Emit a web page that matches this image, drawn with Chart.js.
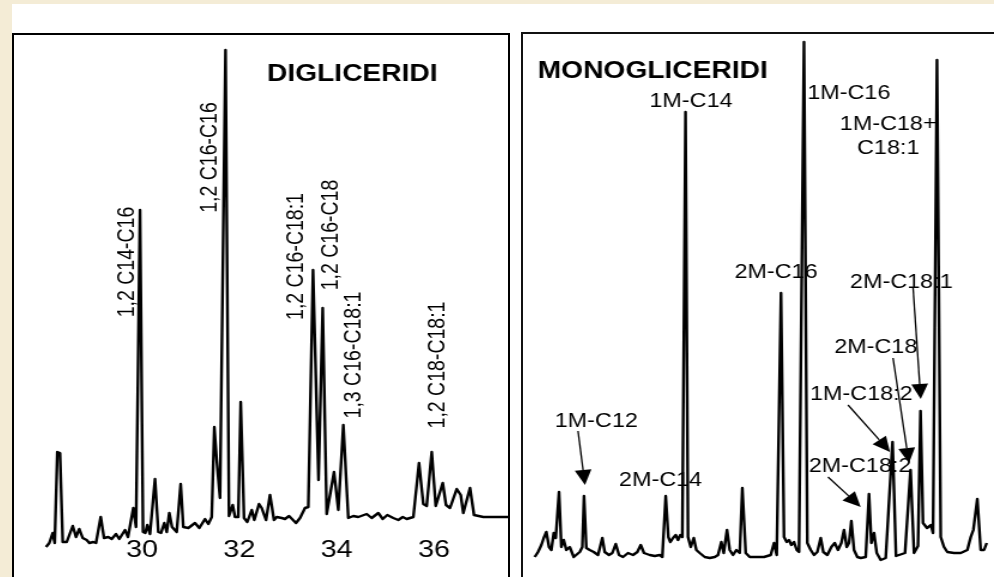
<!DOCTYPE html>
<html>
<head>
<meta charset="utf-8">
<script src="https://cdn.jsdelivr.net/npm/chart.js@4.4.0/dist/chart.umd.min.js"></script>
<style>
    html, body { margin: 0; padding: 0; }
    body { width: 994px; height: 577px; overflow: hidden; position: relative; background: #fff; }
    .strip { position: absolute; background: #f4ecd6; }
    .panel { position: absolute; box-sizing: border-box; border: 2px solid #000; height: 620px; }
    canvas { position: absolute; }
</style>
</head>
<body>
<div class="strip" style="left:0;top:0;width:994px;height:4px"></div>
<div class="strip" style="left:0;top:0;width:12px;height:577px"></div>
<div class="panel" style="left:12px;top:33px;width:498px"></div>
<div class="panel" style="left:521px;top:32px;width:520px;border-color:#111"></div>
<canvas id="di" width="412" height="560" style="left:14px;top:35px;width:494px;height:560px"></canvas>
<canvas id="mono" width="393" height="542" style="left:523px;top:35px;width:471px;height:542px"></canvas>
<script>
// diglycerides trace: retention time (min) and detector response (a.u.)
const diTime = [
    28.026, 28.094, 28.163, 28.205, 28.258, 28.313, 28.369, 28.451, 28.575, 28.642,
    28.710, 28.780, 28.862, 28.916, 28.998, 29.053, 29.150, 29.218, 29.306, 29.376,
    29.465, 29.532, 29.650, 29.711, 29.820, 29.876, 29.958, 30.020, 30.067, 30.108,
    30.163, 30.266, 30.334, 30.390, 30.457, 30.507, 30.560, 30.616, 30.712, 30.794,
    30.848, 30.951, 31.088, 31.177, 31.294, 31.362, 31.432, 31.485, 31.534, 31.602,
    31.715, 31.787, 31.863, 31.911, 31.978, 32.028, 32.096, 32.163, 32.254, 32.307,
    32.404, 32.459, 32.548, 32.630, 32.712, 32.768, 32.871, 32.938, 33.021, 33.164,
    33.247, 33.349, 33.417, 33.514, 33.627, 33.713, 33.795, 33.946, 34.034, 34.137,
    34.239, 34.342, 34.445, 34.618, 34.720, 34.856, 34.947, 35.041, 35.164, 35.267,
    35.358, 35.440, 35.576, 35.693, 35.781, 35.851, 35.954, 36.036, 36.180, 36.248,
    36.330, 36.468, 36.550, 36.603, 36.741, 36.823, 37.014, 37.290, 37.563
];
const diSignal = [
    13, 17, 27, 17, 108, 107, 18, 18, 34, 23,
    31, 22, 20, 17, 18, 17, 43, 22, 23, 21,
    26, 21, 30, 23, 52, 33, 350, 28, 27, 35,
    26, 81, 28, 27, 37, 28, 47, 33, 28, 76,
    33, 32, 37, 32, 41, 36, 43, 133, 100, 62,
    510, 44, 55, 43, 43, 158, 42, 38, 50, 40,
    56, 52, 40, 65, 40, 43, 42, 41, 44, 37,
    42, 52, 53, 290, 80, 252, 46, 88, 50, 135,
    42, 44, 43, 46, 42, 47, 41, 45, 42, 40,
    43, 41, 43, 97, 56, 54, 108, 54, 77, 55,
    52, 71, 65, 47, 72, 45, 43, 43, 43
];
const diTicks = [30, 32, 34, 36];
const diPeakNames = ['1,2 C14-C16', '1,2 C16-C16', '1,2 C16-C18:1', '1,2 C16-C18', '1,3 C16-C18:1', '1,2 C18-C18:1'];

// monoglycerides trace
const monoTime = [
    17.293, 17.375, 17.458, 17.518, 17.583, 17.650, 17.708, 17.768, 17.818, 17.900,
    17.958, 18.018, 18.083, 18.168, 18.268, 18.418, 18.483, 18.525, 18.583, 18.668,
    18.768, 18.875, 18.983, 19.043, 19.150, 19.233, 19.318, 19.400, 19.500, 19.625,
    19.750, 19.858, 19.943, 20.025, 20.168, 20.293, 20.418, 20.483, 20.568, 20.633,
    20.683, 20.750, 20.818, 20.875, 20.933, 20.983, 21.063, 21.125, 21.193, 21.268,
    21.333, 21.418, 21.543, 21.668, 21.793, 21.875, 21.958, 22.018, 22.100, 22.168,
    22.250, 22.333, 22.418, 22.483, 22.568, 22.668, 23.025, 23.193, 23.275, 23.343,
    23.450, 23.525, 23.593, 23.650, 23.708, 23.775, 23.843, 23.900, 24.025, 24.108,
    24.193, 24.275, 24.358, 24.443, 24.508, 24.608, 24.708, 24.793, 24.875, 24.958,
    25.025, 25.093, 25.150, 25.208, 25.275, 25.358, 25.443, 25.568, 25.650, 25.708,
    25.775, 25.843, 25.943, 26.068, 26.238, 26.325, 26.550, 26.688, 26.775, 26.875,
    26.938, 27.000, 27.100, 27.200, 27.250, 27.350, 27.443, 27.525, 27.608, 27.775,
    27.943, 28.108, 28.193, 28.258, 28.358, 28.443, 28.525, 28.593
];
const monoSignal = [
    20, 25, 32, 39, 45, 30, 27, 44, 39, 85,
    30, 37, 27, 30, 20, 25, 30, 81, 29, 27,
    25, 22, 39, 25, 22, 24, 33, 22, 20, 24,
    22, 25, 32, 24, 22, 21, 22, 20, 81, 40,
    35, 39, 42, 37, 42, 40, 465, 40, 30, 39,
    27, 24, 20, 19, 20, 22, 35, 24, 47, 27,
    22, 27, 24, 89, 24, 20, 20, 22, 34, 22,
    284, 40, 35, 37, 32, 35, 27, 25, 535, 34,
    27, 22, 25, 39, 25, 22, 30, 34, 27, 34,
    47, 30, 34, 56, 27, 20, 19, 20, 83, 34,
    44, 24, 17, 19, 135, 21, 24, 107, 24, 31,
    166, 54, 49, 52, 44, 517, 40, 30, 25, 24,
    24, 27, 40, 47, 78, 27, 27, 34
];
const monoPeakNames = ['1M-C12', '2M-C14', '1M-C14', '2M-C16', '1M-C16', '1M-C18:2', '2M-C18:2', '2M-C18', '2M-C18:1', '1M-C18+\nC18:1'];

// where the names sit (data coordinates), kept apart from the values
const diNotePos = [[29.691, 298], [31.397, 402.5], [33.164, 303.5], [33.894, 325], [34.346, 205], [36.073, 195]];
const monoNotePos = [[18.833, 155.3], [20.438, 96.7], [21.2, 475.7], [23.325, 304.2], [25.145, 483.2],
    [25.458, 182.8], [25.425, 110.7], [25.82, 229.8], [26.458, 294.8], [26.13, 440.35]];
// arrows: from [x, y] to [x, y]
const monoArrows = [
    [18.375, 146, 18.55, 92],
    [25.125, 172, 26.175, 125],
    [24.625, 100, 25.443, 70],
    [26.25, 219, 26.65, 114],
    [26.75, 290, 26.943, 178]
];

const FONT = '"Liberation Sans", Arial, sans-serif';

// names go under the trace, arrows over it
const notesPlugin = {
    id: 'notes',
    beforeDatasetsDraw( chart, args, opts ) {
        const ctx = chart.ctx;
        const xs = chart.scales.x;
        const ys = chart.scales.y;
        ctx.save();
        ctx.fillStyle = '#000';
        for ( let n of opts.labels || [] ) {
            const px = xs.getPixelForValue( n.x );
            const py = ys.getPixelForValue( n.y );
            ctx.font = n.font;
            ctx.textAlign = n.align || 'center';
            ctx.textBaseline = 'middle';
            const lines = n.text.split( '\n' );
            ctx.save();
            ctx.translate( px, py );
            if ( n.rot ) {
                ctx.rotate( -Math.PI / 2 );
            }
            lines.forEach( ( line, i ) => {
                ctx.fillText( line, 0, ( i - ( lines.length - 1 ) / 2 ) * 24 );
            } );
            ctx.restore();
        }
        ctx.restore();
    },
    afterDatasetsDraw( chart, args, opts ) {
        const ctx = chart.ctx;
        const xs = chart.scales.x;
        const ys = chart.scales.y;
        ctx.save();
        ctx.fillStyle = '#000';
        ctx.strokeStyle = '#000';
        for ( let a of opts.arrows || [] ) {
            const x0 = xs.getPixelForValue( a[0] ), y0 = ys.getPixelForValue( a[1] );
            const x1 = xs.getPixelForValue( a[2] ), y1 = ys.getPixelForValue( a[3] );
            const ang = Math.atan2( y1 - y0, x1 - x0 );
            const len = 15, half = 7;
            const bx = x1 - len * Math.cos( ang ), by = y1 - len * Math.sin( ang );
            ctx.lineWidth = 1.3;
            ctx.beginPath();
            ctx.moveTo( x0, y0 );
            ctx.lineTo( bx, by );
            ctx.stroke();
            ctx.beginPath();
            ctx.moveTo( x1, y1 );
            ctx.lineTo( bx + half * Math.sin( ang ), by - half * Math.cos( ang ) );
            ctx.lineTo( bx - half * Math.sin( ang ), by + half * Math.cos( ang ) );
            ctx.closePath();
            ctx.fill();
        }
        ctx.restore();
    }
};

const labelFont = '19.5px ' + FONT;
const titleFont = 'bold 23.5px ' + FONT;

const diLabels = diPeakNames.map( ( name, i ) => ( {
    text: name, x: diNotePos[i][0], y: diNotePos[i][1], rot: true, font: labelFont
} ) );
diLabels.push( { text: 'DIGLICERIDI', x: 32.568, y: 485.3, align: 'left', font: titleFont } );

const monoLabels = monoPeakNames.map( ( name, i ) => ( {
    text: name, x: monoNotePos[i][0], y: monoNotePos[i][1], font: labelFont
} ) );
monoLabels.push( { text: 'MONOGLICERIDI', x: 17.368, y: 505.3, align: 'left', font: titleFont } );

function traceDataset( xs, ys ) {
    return {
        data: xs.map( ( t, i ) => ( { x: t, y: ys[i] } ) ),
        borderColor: '#000',
        borderWidth: 2.4,
        borderJoinStyle: 'round',
        pointRadius: 0,
        tension: 0,
        fill: false
    };
}

new Chart( document.getElementById( 'di' ), {
    type: 'line',
    data: { datasets: [traceDataset( diTime, diSignal )] },
    options: {
        responsive: false,
        animation: false,
        events: [],
        layout: { padding: 0 },
        plugins: {
            legend: { display: false },
            tooltip: { enabled: false },
            notes: { labels: diLabels }
        },
        scales: {
            x: {
                type: 'linear',
                min: 27.368,
                max: 37.522,
                grid: { display: false, drawTicks: false },
                border: { display: false },
                afterBuildTicks: scale => {
                    scale.ticks = diTicks.map( v => ( { value: v } ) );
                },
                afterFit: scale => {
                    scale.height = 35;
                },
                ticks: {
                    mirror: true,
                    padding: -4.6,
                    color: '#000',
                    maxRotation: 0,
                    autoSkip: false,
                    font: { family: FONT, size: 24 },
                    callback: v => String( v )
                }
            },
            y: { display: false, min: 0, max: 525 }
        }
    },
    plugins: [notesPlugin]
} );

new Chart( document.getElementById( 'mono' ), {
    type: 'line',
    data: { datasets: [traceDataset( monoTime, monoSignal )] },
    options: {
        responsive: false,
        animation: false,
        events: [],
        layout: { padding: 0 },
        plugins: {
            legend: { display: false },
            tooltip: { enabled: false },
            notes: { labels: monoLabels, arrows: monoArrows }
        },
        scales: {
            x: { type: 'linear', display: false, min: 17, max: 28.775 },
            y: { display: false, min: 0, max: 542 }
        }
    },
    plugins: [notesPlugin]
} );
</script>
</body>
</html>
